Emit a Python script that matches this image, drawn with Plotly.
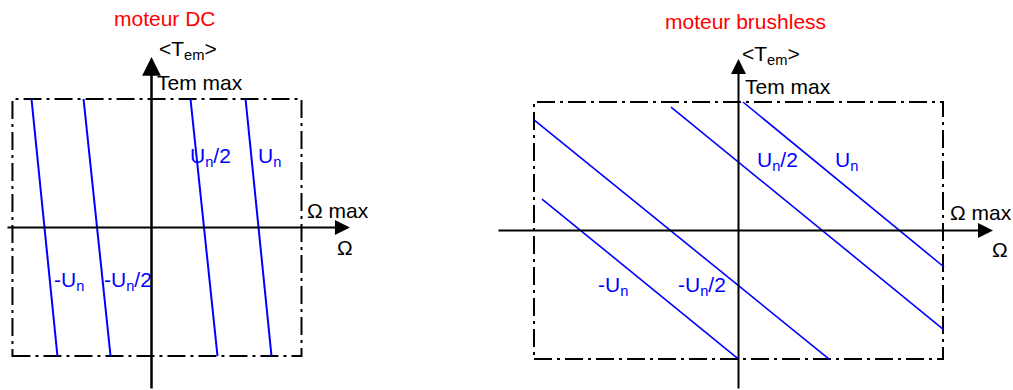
import plotly.graph_objects as go

# ---- DC motor: speed / mean torque characteristics (Omega in units of Omega max, T in units of Tem max)
dc_labels = ["-U<sub>n</sub>", "-U<sub>n</sub>/2", "U<sub>n</sub>/2", "U<sub>n</sub>"]
dc_torque_top = 1.0
dc_torque_bottom = -1.0
dc_speed_at_top = [-0.80, -0.453, 0.26, 0.627]
dc_speed_at_bottom = [-0.627, -0.273, 0.44, 0.80]
dc_box_speed = [-0.927, 1.0]
dc_box_torque = [-1.0, 1.0]

# ---- Brushless motor characteristics (start and end points of each segment)
bl_labels = ["-U<sub>n</sub>", "-U<sub>n</sub>/2", "U<sub>n</sub>/2", "U<sub>n</sub>"]
bl_speed_start = [-0.961, -1.0, -0.330, 0.022]
bl_torque_start = [0.245, 0.86, 0.961, 1.0]
bl_speed_end = [0.0, 0.443, 1.0, 1.005]
bl_torque_end = [-1.0, -1.0, -0.767, -0.284]
bl_box_speed = [-1.0, 1.0]
bl_box_torque = [-1.0, 1.0]

BLUE = "#0000ff"
RED = "#ff0000"
FONT = "Liberation Sans, Arial, sans-serif"
DASHDOT = "18px,5px,3px,5px"

fig = go.Figure()

# characteristic lines
for top, bot in zip(dc_speed_at_top, dc_speed_at_bottom):
    fig.add_trace(go.Scatter(x=[top, bot], y=[dc_torque_top, dc_torque_bottom],
                             mode="lines", line=dict(color=BLUE, width=2),
                             xaxis="x", yaxis="y", hoverinfo="skip", showlegend=False))
for xs, ys, xe, ye in zip(bl_speed_start, bl_torque_start, bl_speed_end, bl_torque_end):
    fig.add_trace(go.Scatter(x=[xs, xe], y=[ys, ye],
                             mode="lines", line=dict(color=BLUE, width=1.6),
                             xaxis="x2", yaxis="y2", hoverinfo="skip", showlegend=False))

# operating-limit boxes
fig.add_shape(type="rect", xref="x", yref="y",
              x0=dc_box_speed[0], x1=dc_box_speed[1], y0=dc_box_torque[0], y1=dc_box_torque[1],
              line=dict(color="black", width=2, dash=DASHDOT), layer="below")
fig.add_shape(type="rect", xref="x2", yref="y2",
              x0=bl_box_speed[0], x1=bl_box_speed[1], y0=bl_box_torque[0], y1=bl_box_torque[1],
              line=dict(color="black", width=2, dash=DASHDOT), layer="below")

annotations = []


def arrow(xref, yref, x, y, ax, ay, width):
    annotations.append(dict(xref=xref, yref=yref, axref=xref, ayref=yref,
                            x=x, y=y, ax=ax, ay=ay, text="", showarrow=True,
                            arrowhead=2, arrowsize=1.5, arrowwidth=width,
                            arrowcolor="black", standoff=0, startstandoff=0))


# axes with arrows
arrow("x", "y", 1.323, 0, -0.97, 0, 2)
arrow("x", "y", 0, 1.327, 0, -1.264, 2.5)
arrow("x2", "y2", 1.2445, 0, -1.181, 0, 2)
arrow("x2", "y2", 0, 1.335, 0, -1.241, 2)


def label(xref, yref, x, y, text, color="black", xanchor="left"):
    annotations.append(dict(xref=xref, yref=yref, x=x, y=y, text=text,
                            showarrow=False, xanchor=xanchor, yanchor="middle",
                            font=dict(family=FONT, size=21, color=color),
                            borderpad=0))


# DC motor labels
label("x", "y", 0.087, 1.623, "moteur DC", RED, "center")
label("x", "y", 0.04, 1.381, "<T<sub>em</sub>>")
label("x", "y", 0.033, 1.125, "Tem max")
label("x", "y", 1.03, 0.136, "Ω max")
label("x", "y", 1.29, -0.152, "Ω", xanchor="center")
dc_label_pos = [(-0.655, -0.42), (-0.322, -0.42), (0.252, 0.549), (0.705, 0.549)]
for (lx, ly), t in zip(dc_label_pos, dc_labels):
    label("x", "y", lx, ly, t, BLUE)

# brushless motor labels
label("x2", "y2", 0.034, 1.623, "moteur brushless", RED, "center")
label("x2", "y2", 0.01, 1.366, "<T<sub>em</sub>>")
label("x2", "y2", 0.025, 1.124, "Tem max")
label("x2", "y2", 1.028, 0.144, "Ω max")
label("x2", "y2", 1.279, -0.144, "Ω", xanchor="center")
bl_label_pos = [(-0.69, -0.432), (-0.3, -0.432), (0.086, 0.541), (0.468, 0.541)]
for (lx, ly), t in zip(bl_label_pos, bl_labels):
    label("x2", "y2", lx, ly, t, BLUE)

hidden = dict(visible=False, showgrid=False, zeroline=False, fixedrange=True)
fig.update_layout(
    width=1013, height=390,
    margin=dict(l=0, r=0, t=0, b=0),
    paper_bgcolor="white", plot_bgcolor="white",
    xaxis=dict(domain=[0, 380 / 1013], range=[-1.01, 1.5233], **hidden),
    yaxis=dict(domain=[0, 1], range=[-1.2646, 1.7704], **hidden),
    xaxis2=dict(domain=[490 / 1013, 1], range=[-1.2152, 1.3423], **hidden),
    yaxis2=dict(domain=[0, 1], range=[-1.2412, 1.7938], anchor="x2", **hidden),
    annotations=annotations,
    showlegend=False,
)

fig.write_html("out.html")
